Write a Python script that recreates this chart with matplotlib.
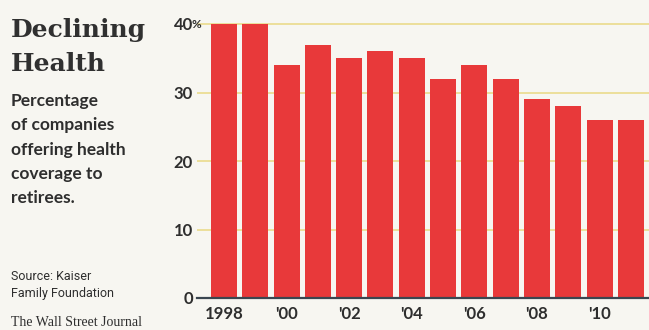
import matplotlib
matplotlib.use("Agg")
import matplotlib.pyplot as plt

years = [1998, 1999, 2000, 2001, 2002, 2003, 2004, 2005, 2006, 2007, 2008, 2009, 2010, 2011]
values = [40, 40, 34, 37, 35, 36, 35, 32, 34, 32, 29, 28, 26, 26]
xtick_years = [1998, 2000, 2002, 2004, 2006, 2008, 2010]
xtick_labels = ["1998", "'00", "'02", "'04", "'06", "'08", "'10"]
yticks = [0, 10, 20, 30, 40]
ytick_labels = ["0", "10", "20", "30", "40"]

BG = "#f7f6f1"
RED = "#e8393a"
GRID = "#ecdf9a"
TXT = "#2e2e2e"
SANS_B = ["Liberation Sans Narrow", "Lato", "DejaVu Sans"]
SANS = ["Liberation Sans Narrow", "Roboto", "DejaVu Sans"]
SERIF = ["Liberation Serif", "DejaVu Serif"]

W, H = 649, 330
fig = plt.figure(figsize=(W / 100, H / 100), dpi=100, facecolor=BG)

left, right, bottom = 197, 649, 298
ymax = 42
top = bottom - ymax * 6.85
ax = fig.add_axes([left / W, (H - bottom) / H, (right - left) / W, (bottom - top) / H])
ax.set_facecolor(BG)

x = list(range(len(years)))
ax.bar(x, values, width=0.83, color=RED, zorder=3)
ax.set_xlim(-0.86, 13.58)
ax.set_ylim(0, ymax)

for s in ["top", "right", "left"]:
    ax.spines[s].set_visible(False)
ax.spines["bottom"].set_color("#3a4650")
ax.spines["bottom"].set_linewidth(1.6)
ax.spines["bottom"].set_zorder(4)

ax.set_yticks(yticks, labels=ytick_labels)
ax.yaxis.grid(True, color=GRID, linewidth=1.4, zorder=0)
ax.set_axisbelow(True)
ax.tick_params(axis="y", length=0, pad=3)
for lab in ax.get_yticklabels():
    lab.set_fontfamily(SANS_B)
    lab.set_fontweight("bold")
    lab.set_fontsize(12)
    lab.set_color(TXT)
ax.annotate("%", xy=(0, 40), xycoords=ax.get_yaxis_transform(), xytext=(-5, 0),
            textcoords="offset pixels", ha="left", va="center_baseline",
            fontsize=8.5, fontweight="bold", family=SANS_B, color=TXT, zorder=5)

xt = [years.index(y) for y in xtick_years]
ax.set_xticks(xt, labels=xtick_labels)
ax.tick_params(axis="x", length=0, pad=6)
for lab in ax.get_xticklabels():
    lab.set_fontfamily(SANS_B)
    lab.set_fontweight("bold")
    lab.set_fontsize(12)
    lab.set_color(TXT)

# Left text panel
def fx(px):
    return px / W
def fy(py):
    return 1 - py / H

fig.text(fx(11), fy(37), "Declining", family="DejaVu Serif", fontweight="bold", fontsize=18,
         color="#303030", va="baseline", ha="left")
fig.text(fx(11), fy(71), "Health", family="DejaVu Serif", fontweight="bold", fontsize=18,
         color="#303030", va="baseline", ha="left")
sub = ["Percentage", "of companies", "offering health", "coverage to", "retirees."]
for i, line in enumerate(sub):
    fig.text(fx(11), fy(106 + i * 24.3), line, family=SANS_B, fontweight="bold",
             fontsize=12.5, color=TXT, va="baseline", ha="left")
fig.text(fx(11), fy(280), "Source: Kaiser", family=SANS, fontsize=9, color=TXT,
         va="baseline", ha="left")
fig.text(fx(11), fy(297), "Family Foundation", family=SANS, fontsize=9, color=TXT,
         va="baseline", ha="left")
fig.text(fx(11), fy(326), "The Wall Street Journal", family=SERIF, fontsize=10,
         color=TXT, va="baseline", ha="left")

fig.savefig("out.png", dpi=100, facecolor=BG)
